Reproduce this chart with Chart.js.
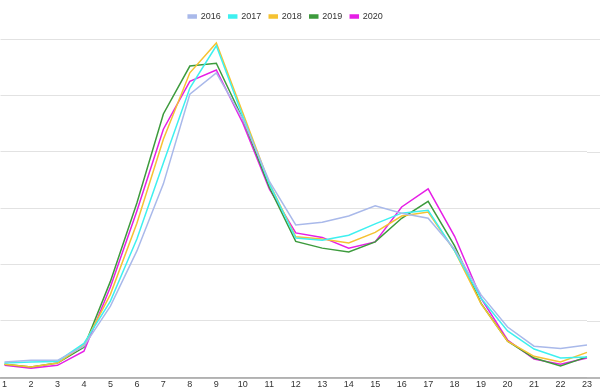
<!DOCTYPE html>
<html>
<head>
  <title>2016-2020</title>
  <script src="https://cdn.jsdelivr.net/npm/chart.js"></script>
  <style>
    body { margin: 0; background: #fff; }
    #wrap { width: 600px; height: 392px; }
  </style>
</head>
<body>
  <div id="wrap"><canvas id="chart" width="600" height="392"></canvas></div>

  <script>
    const hours = ["1","2","3","4","5","6","7","8","9","10","11","12","13","14","15","16","17","18","19","20","21","22","23"];
    const y2016 = [27,30,30,55,126,224,343,502,540,458,348,270,275,286,304,291,282,227,146,89,55,51,57];
    const y2017 = [25,27,28,60,135,245,380,513,588,463,343,247,243,252,272,291,296,224,140,82,50,34,36];
    const y2018 = [23,18,25,57,147,273,422,540,593,469,344,249,245,238,257,286,293,224,130,64,37,27,44];
    const y2019 = [23,18,25,53,170,309,467,552,557,458,337,241,229,222,240,282,312,233,131,64,34,20,36];
    const y2020 = [21,16,21,46,160,295,440,525,545,451,334,256,248,229,240,302,334,250,140,66,32,23,34];

    function serie(label, data, color) {
      return {
        label: label,
        data: data,
        borderColor: color,
        backgroundColor: color,
        borderWidth: 1.5,
        pointRadius: 0,
        tension: 0,
        fill: false
      };
    }

    // plus d'espace sous la légende, et légende un peu décalée à gauche
    const legendTweak = {
      id: "legendTweak",
      beforeInit(chart) {
        const fit = chart.legend.fit;
        chart.legend.fit = function () {
          fit.bind(chart.legend)();
          this.height += 8;
        };
      },
      afterLayout(chart) {
        chart.legend.left -= 8;
        chart.legend.right -= 8;
      }
    };

    // prolonge la grille et l'axe jusqu'au bord droit
    const gridToEdge = {
      id: "gridToEdge",
      beforeDatasetsDraw(chart) {
        const c = chart.ctx, a = chart.chartArea, ys = chart.scales.y;
        c.save();
        c.lineWidth = 1;
        c.strokeStyle = "#e2e2e2";
        ys.ticks.forEach(t => {
          if (t.value === 0) return;
          const py = Math.round(ys.getPixelForValue(t.value)) + 0.5;
          c.beginPath();
          c.moveTo(a.right, py);
          c.lineTo(chart.width, py);
          c.stroke();
        });
        c.strokeStyle = "#a0a0a0";
        c.lineWidth = 1.5;
        c.beginPath();
        c.moveTo(0, a.bottom + 0.75);
        c.lineTo(chart.width, a.bottom + 0.75);
        c.stroke();
        c.restore();
      }
    };

    const ctx = document.getElementById("chart").getContext("2d");
    new Chart(ctx, {
      type: "line",
      data: {
        labels: hours,
        datasets: [
          serie("2016", y2016, "#a9b9ea"),
          serie("2017", y2017, "#3ef0f0"),
          serie("2018", y2018, "#f5c232"),
          serie("2019", y2019, "#3d9b3d"),
          serie("2020", y2020, "#e61ee6")
        ]
      },
      options: {
        responsive: false,
        animation: false,
        layout: { padding: { left: 0, right: 13, top: 4, bottom: 0 } },
        plugins: {
          legend: {
            position: "top",
            labels: {
              boxWidth: 8,
              boxHeight: 3,
              padding: 8,
              color: "#333",
              font: { family: "Liberation Sans, Arial", size: 9 }
            }
          },
          tooltip: { enabled: false }
        },
        scales: {
          x: {
            grid: { display: false, drawTicks: false, tickLength: 0 },
            border: { display: false },
            ticks: {
              color: "#333",
              padding: 2,
              maxRotation: 0,
              autoSkip: false,
              font: { family: "Liberation Sans, Arial", size: 9 }
            }
          },
          y: {
            min: 0,
            max: 600,
            ticks: { stepSize: 100, display: false },
            grid: { color: "#e2e2e2", tickLength: 4 },
            border: { display: false }
          }
        }
      },
      plugins: [legendTweak, gridToEdge]
    });
  </script>
</body>
</html>
